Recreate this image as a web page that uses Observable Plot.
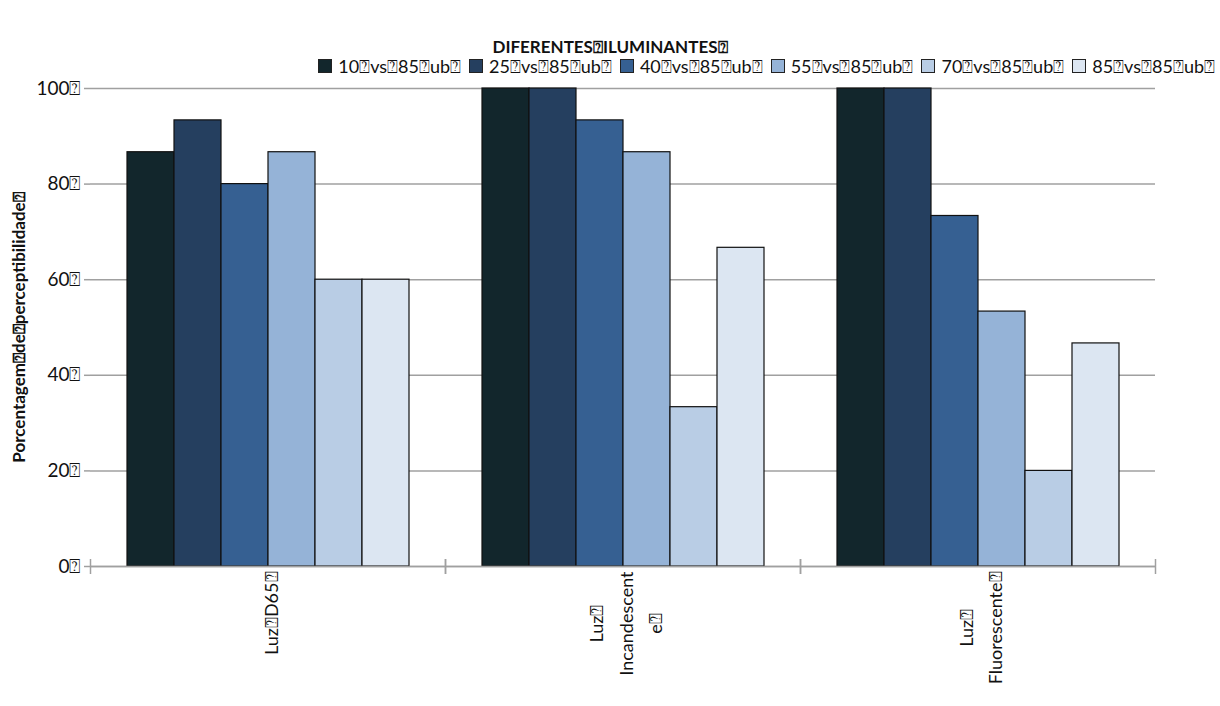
<!DOCTYPE html>
<html><head><meta charset="utf-8">
<script src="https://cdn.jsdelivr.net/npm/d3@7"></script>
<script src="https://cdn.jsdelivr.net/npm/@observablehq/plot@0.6"></script>
<style>
body{margin:0;background:#fff;font-family:Lato,"DejaVu Sans",sans-serif;color:#111;}
#head{position:relative;width:1220px;height:80px;}
#title{position:absolute;top:37px;left:0;width:1220px;text-align:center;font-weight:bold;font-size:17px;line-height:20px;}
#legend{position:absolute;top:56px;right:5px;display:flex;gap:8px;font-size:18px;line-height:20px;}
#legend .it{display:flex;align-items:center;gap:6px;}
#legend .sw{width:12px;height:12px;border:1px solid #222;}
</style></head>
<body>
<div id="head"><div id="title"></div><div id="legend"></div></div>
<div id="chart"></div>
<script>
const Q = "\u2370";
const titleText = "DIFERENTES" + Q + "ILUMINANTES" + Q;
const yLabel = "Porcentagem" + Q + "de" + Q + "perceptibilidade" + Q;
const categories = ["D65", "Incandescente", "Fluorescente"];
const categoryLabels = ["Luz" + Q + "D65" + Q, "Luz" + Q + "\nIncandescent\ne" + Q, "Luz" + Q + "\nFluorescente" + Q];
const seriesNames = ["10", "25", "40", "55", "70", "85"].map(s => s + Q + "vs" + Q + "85" + Q + "ub" + Q);
const colors = ["#12262c", "#253f5f", "#366092", "#95b3d7", "#b9cde5", "#dce6f2"];
const valuesD65 = [86.67, 93.33, 80, 86.67, 60, 60];
const valuesIncandescente = [100, 100, 93.33, 86.67, 33.33, 66.67];
const valuesFluorescente = [100, 100, 73.33, 53.33, 20, 46.67];
const yTicks = [0, 20, 40, 60, 80, 100];

const seriesByCat = [valuesD65, valuesIncandescente, valuesFluorescente];
const data = [];
categories.forEach((c, i) => seriesNames.forEach((s, j) => data.push({group: c, series: s, value: seriesByCat[i][j]})));

document.getElementById("title").textContent = titleText;
const leg = document.getElementById("legend");
seriesNames.forEach((s, j) => {
  const it = document.createElement("div"); it.className = "it";
  const sw = document.createElement("div"); sw.className = "sw"; sw.style.background = colors[j];
  const t = document.createElement("span"); t.textContent = s;
  it.appendChild(sw); it.appendChild(t); leg.appendChild(it);
});

const W = 1220, H = 626, mL = 90, mR = 65, mT = 8, mB = 140;
const step = (W - mL - mR) / categories.length;
const fontSizeX = 18;
const ctx = document.createElement("canvas").getContext("2d");
ctx.font = fontSizeX + "px Lato, 'DejaVu Sans', sans-serif";

const labelMarks = categories.map((c, i) => {
  const lines = categoryLabels[i].split("\n");
  const w = Math.max(...lines.map(l => ctx.measureText(l).width));
  return Plot.text([{group: c, label: categoryLabels[i]}], {
    fx: "group", frameAnchor: "bottom", text: "label", rotate: -90,
    textAnchor: "middle", lineAnchor: "middle", lineHeight: 1.65,
    fontSize: fontSizeX, fill: "#111", dy: 5 + w / 2
  });
});

const chart = Plot.plot({
  width: W, height: H, marginLeft: mL, marginRight: mR, marginTop: mT, marginBottom: mB,
  style: {fontFamily: "Lato, 'DejaVu Sans', sans-serif", background: "#fff", overflow: "visible"},
  fx: {domain: categories, padding: 0, label: null},
  x: {domain: seriesNames, paddingInner: 0, paddingOuter: 0.77, axis: null},
  y: {domain: [0, 100], label: null},
  color: {domain: seriesNames, range: colors},
  marks: [
    Plot.gridY(yTicks, {stroke: "#a0a0a0", strokeOpacity: 1, strokeWidth: 1.5}),
    Plot.barY(data, {fx: "group", x: "series", y: "value", fill: "series", stroke: "#111", strokeWidth: 1.2}),
    Plot.ruleY([0], {stroke: "#a0a0a0", strokeWidth: 1.5}),
    Plot.axisY({ticks: yTicks, tickFormat: d => d + Q, tickSize: 6, tickPadding: 4, fontSize: 19, stroke: "#a0a0a0", strokeWidth: 1.5, fill: "#111", label: null, line: true}),
    Plot.axisY({ticks: [], label: yLabel, labelAnchor: "center", labelArrow: "none", labelOffset: 78, fontSize: 17, fontWeight: "bold", fill: "#111"}),
    Plot.axisFx({anchor: "bottom", tickSize: 15, tickFormat: () => "", stroke: "#a0a0a0", strokeWidth: 1.5, dx: -step / 2, dy: -7, label: null}),
    Plot.axisFx({anchor: "bottom", tickSize: 15, tickFormat: () => "", stroke: "#a0a0a0", strokeWidth: 1.5, dx: step / 2, dy: -7, label: null}),
    ...labelMarks
  ]
});
document.getElementById("chart").appendChild(chart);
</script>
</body></html>
